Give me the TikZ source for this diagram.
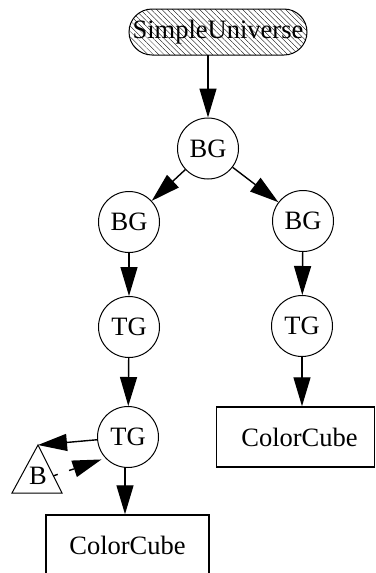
\documentclass[tikz,border=0pt]{standalone}
\usepackage{fontspec}
\setmainfont{Liberation Serif}
\usetikzlibrary{arrows.meta,patterns.meta,shapes.misc}
\begin{document}
\begin{tikzpicture}[x=1pt,y=-1pt,
  every node/.style={font=\fontsize{26.5}{31}\selectfont},
  grp/.style={circle,draw,line width=1pt,minimum size=61pt,inner sep=0pt},
  leaf/.style={rectangle,draw,line width=1.5pt,inner sep=0pt,minimum height=60pt},
  edge/.style={line width=1.4pt,-{Triangle[length=29pt,width=17pt]}},
  ]
\useasboundingbox (0,0) rectangle (375,573);
\node[rounded rectangle,draw,line width=1pt,
      pattern={Lines[angle=-45,distance=3.8pt,line width=0.35pt]},
      minimum width=178pt,minimum height=46pt,inner sep=0pt] (SU) at (218,32) {SimpleUniverse};
\node[grp] (BG0) at (208,148.5) {BG};
\node[grp] (BG1) at (129,222) {BG};
\node[grp] (BG2) at (303,221) {BG};
\node[grp] (TG1) at (129,327) {TG};
\node[grp] (TG2) at (302,326) {TG};
\node[grp] (TG3) at (128,437) {TG};
\node[leaf,minimum width=158pt,text width=150pt,align=center,xshift=0pt] (CC2) at (295.5,437) {\hspace*{8pt}ColorCube};
\node[leaf,minimum width=163pt] (CC1) at (127.5,545) {ColorCube};
\coordinate (Btop) at (38,445);
\coordinate (Bbl) at (12,493);
\coordinate (Bbr) at (62,493);
\draw[line width=1pt] (Btop) -- (Bbr) -- (Bbl) -- cycle;
\node (B) at (38,476) {B};
\coordinate (Bside) at (53,476);
\coordinate (x125) at (125,0);
\draw[edge] (SU.south -| BG0) -- (BG0);
\draw[edge] (BG0) -- (BG1);
\draw[edge] (BG0) -- (BG2);
\draw[edge] (BG1) -- (TG1);
\draw[edge] (BG2) -- (TG2);
\draw[edge] (TG1) -- (TG3);
\draw[edge] (TG2) -- (CC2.north -| TG2);
\draw[edge] (TG3.south -| x125) -- (CC1.north -| x125);
\draw[edge] (TG3) -- (Btop);
\draw[edge,dash pattern=on 5pt off 12pt,shorten >=4pt] (Bside) -- (TG3.223);
\end{tikzpicture}
\end{document}
